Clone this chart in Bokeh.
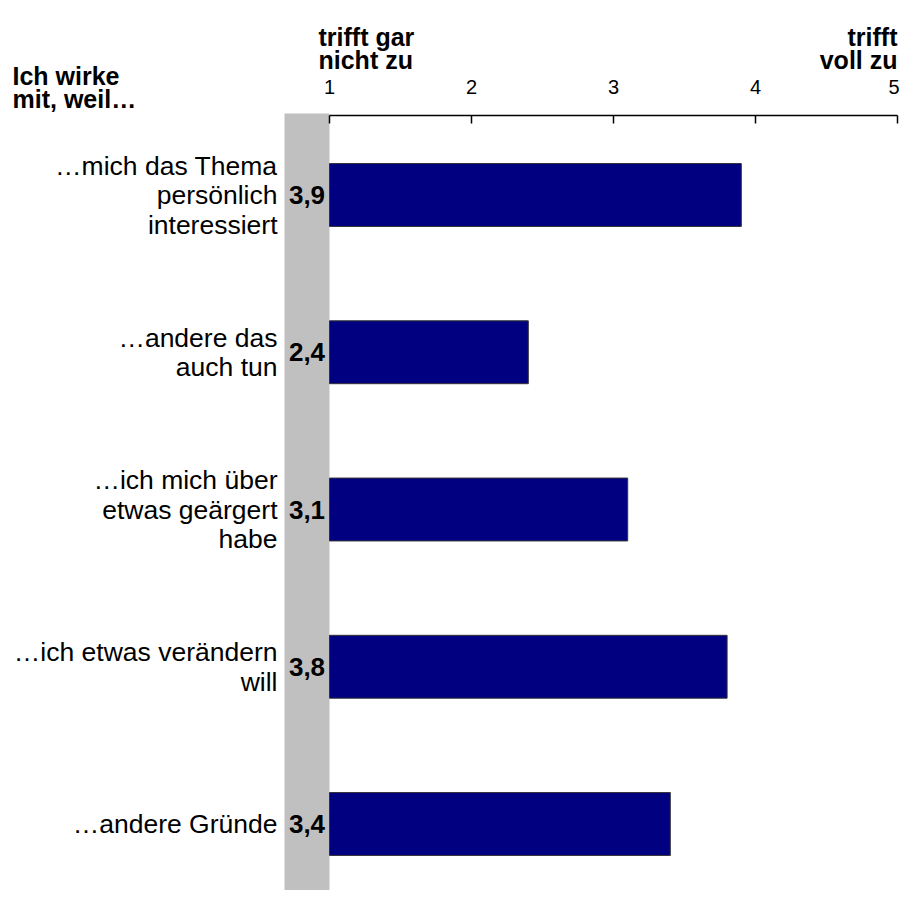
from bokeh.plotting import figure
from bokeh.models import Range1d, FixedTicker, LabelSet, Label, BoxAnnotation, ColumnDataSource, LinearAxis
from bokeh.core.properties import value
from bokeh.embed import file_html
from bokeh.resources import INLINE

# ---- data ----
categories = [
    "…mich das Thema\npersönlich\ninteressiert",
    "…andere das\nauch tun",
    "…ich mich über\netwas geärgert\nhabe",
    "…ich etwas verändern\nwill",
    "…andere Gründe",
]
values = [3.9, 2.4, 3.1, 3.8, 3.4]
value_labels = ["3,9", "2,4", "3,1", "3,8", "3,4"]
ticks = [1, 2, 3, 4, 5]
scale_min, scale_max = 1, 5
header_left = "Ich wirke\nmit, weil…"
low_label = "trifft gar\nnicht zu"
high_label = "trifft\nvoll zu"

FONT = "Liberation Sans"
positions = list(range(len(categories)))

src = ColumnDataSource(dict(pos=positions, value=values, vlab=value_labels))

# ---- layout constants (pixels) ----
W, H = 899, 890
x1_px = 329.0          # pixel of scale_min
px_per_unit = 142.0
row0_px = 194.5        # pixel of first row centre
row_px = 157.25
axis_px = 115.0        # axis line
band_w = 45.0
CAT_LINE = 29.5
HEAD_LINE = 23.5

def dx(px):
    return scale_min + (px - x1_px) / px_per_unit

def dy(px):
    return (px - row0_px) / row_px

p = figure(
    width=W, height=H, output_backend="svg", toolbar_location=None,
    x_range=Range1d(dx(0), dx(W)), y_range=Range1d(dy(H), dy(0)),
    x_axis_location=None, y_axis_location=None,
    min_border=0,
)
p.grid.visible = False
p.outline_line_color = None

axis_loc = dy(axis_px)
ax = LinearAxis(fixed_location=axis_loc)
ax.bounds = (scale_min, scale_max)
ax.ticker = FixedTicker(ticks=ticks)
ax.major_tick_in = 8
ax.major_tick_out = 0
ax.minor_tick_line_color = None
ax.axis_line_width = 1.5
ax.axis_line_color = "black"
ax.major_tick_line_color = "black"
ax.major_tick_line_width = 1.5
ax.major_label_text_font = FONT
ax.major_label_text_font_size = "20px"
ax.major_label_text_color = "black"
ax.major_label_standoff = 22
p.add_layout(ax, "above")

band = BoxAnnotation(left=dx(x1_px - band_w), right=scale_min,
                     top=dy(axis_px - 2), bottom=dy(H),
                     fill_color="#c0c0c0", fill_alpha=1.0,
                     line_color=None, level="underlay")
p.add_layout(band)

p.hbar(y="pos", left=scale_min, right="value", height=0.4, source=src,
       fill_color="#000080", line_color="#333333", line_width=1)

vl = LabelSet(x=scale_min, y="pos", text="vlab", source=src, x_offset=-band_w / 2,
              text_align="center", text_baseline="middle",
              text_font=value(FONT), text_font_size="26px", text_font_style="bold",
              text_color="black")
p.add_layout(vl)

# category labels, one label per line, right aligned
ln_pos, ln_text, ln_off = [], [], []
for pos, cat in zip(positions, categories):
    lines = cat.split("\n")
    n = len(lines)
    for i, line in enumerate(lines):
        ln_pos.append(pos)
        ln_text.append(line)
        ln_off.append(((n - 1) / 2 - i) * CAT_LINE)
line_src = ColumnDataSource(dict(pos=ln_pos, txt=ln_text, off=ln_off))
cl = LabelSet(x=scale_min, y="pos", text="txt", source=line_src, x_offset=-52,
              y_offset="off",
              text_align="right", text_baseline="middle",
              text_font=value(FONT), text_font_size="26.5px",
              text_color="black")
p.add_layout(cl)

def header(text, x, x_off, y_center_off, align):
    lines = text.split("\n")
    n = len(lines)
    for i, line in enumerate(lines):
        p.add_layout(Label(x=x, y=axis_loc, text=line, x_offset=x_off,
                           y_offset=y_center_off + ((n - 1) / 2 - i) * HEAD_LINE,
                           text_align=align, text_baseline="middle", text_font=FONT,
                           text_font_size="25px", text_font_style="bold",
                           text_color="black"))

header(header_left, scale_min, -317, 28, "left")
header(low_label, scale_min, -11, 67, "left")
header(high_label, scale_max, 0, 67, "right")

open("out.html", "w").write(file_html(p, INLINE))
